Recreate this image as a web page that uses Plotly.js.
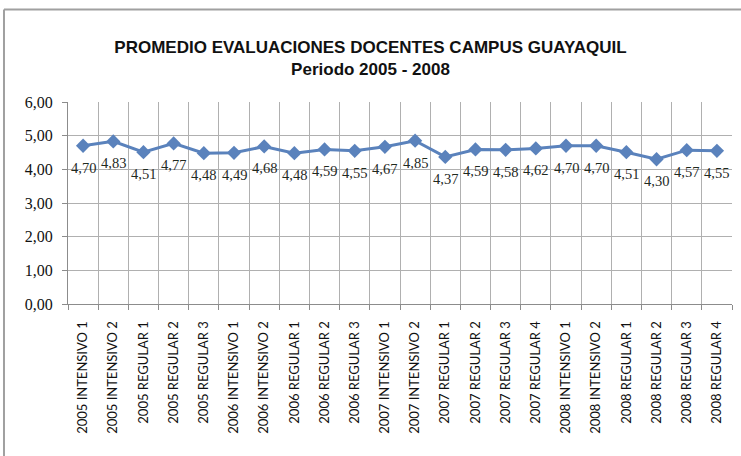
<!DOCTYPE html>
<html><head><meta charset="utf-8">
<script src="https://cdn.plot.ly/plotly-3.0.1.min.js"></script>
<style>html,body{margin:0;padding:0;background:#fff;}#chart{width:741px;height:456px;}</style>
</head><body><div id="chart"></div>
<script>
const categories = ["2005 INTENSIVO 1","2005 INTENSIVO 2","2005 REGULAR 1","2005 REGULAR 2","2005 REGULAR 3",
  "2006 INTENSIVO 1","2006 INTENSIVO 2","2006 REGULAR 1","2006 REGULAR 2","2006 REGULAR 3",
  "2007 INTENSIVO 1","2007 INTENSIVO 2","2007 REGULAR 1","2007 REGULAR 2","2007 REGULAR 3","2007 REGULAR 4",
  "2008 INTENSIVO 1","2008 INTENSIVO 2","2008 REGULAR 1","2008 REGULAR 2","2008 REGULAR 3","2008 REGULAR 4"];
const promedio = [4.70,4.83,4.51,4.77,4.48,4.49,4.68,4.48,4.59,4.55,4.67,4.85,4.37,4.59,4.58,4.62,4.70,4.70,4.51,4.30,4.57,4.55];
const yTicks = [0,1,2,3,4,5,6];

const trace = {
  x: categories, y: promedio, type: 'scatter', mode: 'lines+markers',
  line: {color: '#5A82BC', width: 3},
  marker: {symbol: 'diamond', size: 11, color: '#5A82BC'},
  hoverinfo: 'skip'
};

const annotations = categories.map((c, i) => ({
  x: c, y: promedio[i], xref: 'x', yref: 'y',
  text: promedio[i].toFixed(2).replace('.', ','),
  showarrow: false, yshift: -22,
  font: {family: 'Liberation Serif, serif', size: 14.5, color: '#1f2a1f'}
}));

const layout = {
  width: 741, height: 456,
  margin: {l: 68, r: 9, t: 102, b: 152},
  paper_bgcolor: '#fff', plot_bgcolor: '#fff',
  separators: ',.',
  showlegend: false,
  title: {
    text: '<b>PROMEDIO EVALUACIONES DOCENTES CAMPUS GUAYAQUIL</b><br><b>Periodo 2005 - 2008</b>',
    x: 0.5, xref: 'container', xanchor: 'center',
    y: 0.884, yref: 'container', yanchor: 'top',
    font: {family: 'Liberation Sans, Arial, sans-serif', size: 17, color: '#111'}
  },
  xaxis: {
    type: 'category', tickson: 'boundaries',
    showgrid: true, gridcolor: '#b0b0b0', gridwidth: 1,
    showline: true, linecolor: '#8c8c8c', linewidth: 1,
    ticks: 'outside', ticklen: 5, tickcolor: '#8c8c8c',
    tickangle: -90, ticklabelstandoff: 11,
    tickfont: {family: 'Lato, sans-serif', size: 13, color: '#111'},
    range: [-0.5, categories.length - 0.5], fixedrange: true
  },
  yaxis: {
    range: [0, 6], tickvals: yTicks, tickformat: '.2f',
    showgrid: true, gridcolor: '#b0b0b0', gridwidth: 1,
    showline: true, linecolor: '#8c8c8c', linewidth: 1,
    ticks: 'outside', ticklen: 5, tickcolor: '#8c8c8c',
    ticklabelstandoff: 6,
    zeroline: false,
    tickfont: {family: 'Liberation Serif, serif', size: 16, color: '#111'},
    fixedrange: true
  },
  annotations: annotations,
  shapes: [
    {type: 'line', xref: 'paper', yref: 'paper', x0: -0.0964, x1: 1.02, y0: 1.458, y1: 1.458, line: {color: '#a0a0a0', width: 2}},
    {type: 'line', xref: 'paper', yref: 'paper', x0: -0.0964, x1: -0.0964, y0: 1.458, y1: -0.8, line: {color: '#a0a0a0', width: 2}}
  ]
};

Plotly.newPlot('chart', [trace], layout, {displayModeBar: false, staticPlot: true});
</script></body></html>
